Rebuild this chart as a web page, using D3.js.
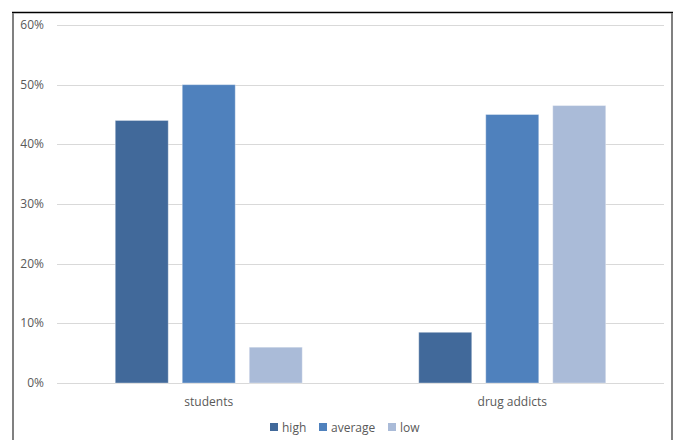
<!DOCTYPE html>
<html>
<head>
<meta charset="utf-8">
<script src="https://cdn.jsdelivr.net/npm/d3@7/dist/d3.min.js"></script>
<style>
  html, body { margin: 0; padding: 0; background: #fff; }
  svg { display: block; }
  text { font-family: "Open Sans", "Liberation Sans", Arial, sans-serif; fill: #595959; }
</style>
</head>
<body>
<svg id="chart" width="678" height="440"></svg>
<script>
const categories = ["students", "drug addicts"];
const seriesNames = ["high", "average", "low"];
const high = [44, 8.5];
const average = [50, 45];
const low = [6, 46.5];
const yTicks = [0, 10, 20, 30, 40, 50, 60];
const colors = ["#41699A", "#4F81BD", "#AABBD8"];

const seriesValues = [high, average, low];
const data = categories.map((c, i) => ({
  cat: c,
  vals: seriesNames.map((s, j) => ({ key: s, value: seriesValues[j][i] }))
}));

const svg = d3.select("#chart");
const W = 678, H = 440;
svg.append("rect").attr("width", W).attr("height", H).attr("fill", "#fff");

// frame
svg.append("rect").attr("x", 13).attr("y", 12.5).attr("width", 659).attr("height", 440)
  .attr("fill", "none").attr("stroke", "#808080").attr("stroke-width", 2);
svg.append("line").attr("x1", 12).attr("x2", 673).attr("y1", 12.5).attr("y2", 12.5)
  .attr("stroke", "#000").attr("stroke-width", 1.2);

const plot = { left: 57, right: 664, top: 25, bottom: 383 };

const y = d3.scaleLinear().domain([0, 60]).range([plot.bottom, plot.top]);
const x0 = d3.scaleBand().domain(categories).range([plot.left, plot.right]).padding(0);
const groupW = 187;
const x1 = d3.scaleBand().domain(seriesNames)
  .range([x0.bandwidth() / 2 - groupW / 2, x0.bandwidth() / 2 + groupW / 2])
  .paddingInner(14 / 67).paddingOuter(0);
const color = d3.scaleOrdinal().domain(seriesNames).range(colors);

// gridlines
svg.append("g").selectAll("line").data(yTicks).join("line")
  .attr("x1", plot.left).attr("x2", plot.right)
  .attr("y1", d => Math.round(y(d)) + 0.5).attr("y2", d => Math.round(y(d)) + 0.5)
  .attr("stroke", "#D9D9D9").attr("stroke-width", 1);

// y labels
svg.append("g").selectAll("text").data(yTicks).join("text")
  .attr("x", 44).attr("y", d => y(d) + 4)
  .attr("text-anchor", "end").attr("font-size", 12)
  .text(d => d + "%");

// bars
const groups = svg.append("g").selectAll("g").data(data).join("g")
  .attr("transform", d => `translate(${x0(d.cat)},0)`);
groups.selectAll("rect").data(d => d.vals).join("rect")
  .attr("x", d => x1(d.key)).attr("width", x1.bandwidth())
  .attr("y", d => y(d.value)).attr("height", d => y(0) - y(d.value))
  .attr("fill", d => color(d.key))
  .attr("stroke", "#ffffff").attr("stroke-opacity", 0.35).attr("stroke-width", 1);

// category labels
svg.append("g").selectAll("text").data(categories).join("text")
  .attr("x", d => x0(d) + x0.bandwidth() / 2).attr("y", 406)
  .attr("text-anchor", "middle").attr("font-size", 12)
  .text(d => d);

// legend
const legendX = [270, 319, 388];
const lg = svg.append("g").selectAll("g").data(seriesNames).join("g")
  .attr("transform", (d, i) => `translate(${legendX[i]},423)`);
lg.append("rect").attr("width", 8).attr("height", 8).attr("fill", d => color(d));
lg.append("text").attr("x", 12).attr("y", 8.5).attr("font-size", 12).text(d => d);
</script>
</body>
</html>
